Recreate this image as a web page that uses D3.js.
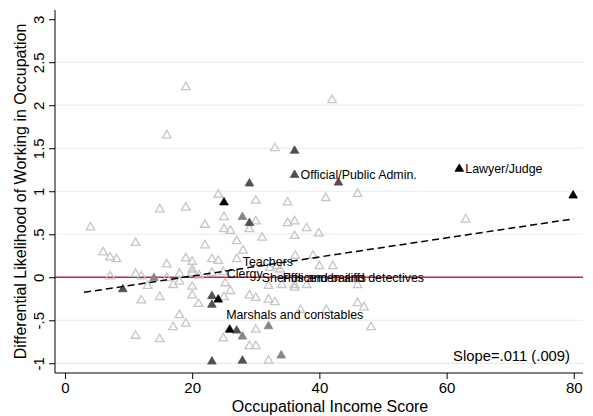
<!DOCTYPE html>
<html>
<head>
<meta charset="utf-8">
<script src="https://cdn.jsdelivr.net/npm/d3@7"></script>
<style>
  html, body { margin: 0; padding: 0; background: #fff; }
  svg { display: block; font-family: "Liberation Sans", Arial, Helvetica, sans-serif; }
</style>
</head>
<body>
<svg id="chart" width="593" height="416"></svg>
<script>
// ---- data (x = occupational income score, y = differential likelihood) ----
const openPts = [
  [4.0,0.58],[6.0,0.29],[7.1,0.23],[8.1,0.21],[7.1,0.01],[11.1,0.40],[11.1,0.04],[12.0,0.01],
  [13.0,-0.10],[12.0,-0.27],[11.1,-0.68],[14.9,0.79],[14.9,-0.23],[14.9,-0.72],[16.0,0.15],
  [16.0,-0.01],[17.0,-0.09],[17.0,-0.58],[18.0,0.04],[18.0,-0.05],[18.0,-0.44],[19.0,0.81],
  [19.0,0.22],[19.0,-0.54],[20.0,0.18],[20.0,0.09],[20.0,0.05],[20.0,-0.11],[20.0,-0.21],
  [21.1,0.02],[21.0,-0.31],[22.0,0.61],[22.0,0.37],[19.0,2.21],[16.0,1.65],
  [23.1,0.21],[24.1,0.19],[23.1,0.05],[24.9,0.06],[24.1,0.96],[25.0,0.70],[25.0,0.56],
  [26.0,0.54],[27.0,0.42],[28.0,0.31],[27.0,0.21],[30.0,0.89],[30.0,0.65],[29.0,0.56],
  [31.0,0.46],[35.0,0.87],[35.0,0.63],[36.1,0.65],[36.1,0.48],[38.0,0.57],[39.9,0.51],
  [41.0,0.92],[46.0,0.97],[33.0,1.50],[42.0,2.06],[36.2,0.25],[39.0,0.25],[40.0,0.13],
  [42.1,0.13],[32.2,0.11],[33.3,0.13],[33.8,0.09],[32.0,-0.10],[34.1,-0.09],[36.1,-0.09],
  [38.0,-0.09],[36.1,-0.12],[46.0,-0.09],[25.2,-0.07],[26.0,-0.16],[25.0,-0.23],[29.0,-0.21],
  [30.0,-0.24],[32.0,-0.26],[33.0,-0.29],[37.0,-0.38],[41.1,-0.38],[46.0,-0.30],[47.0,-0.35],
  [48.1,-0.58],[30.0,-0.61],[24.9,-0.71],[29.0,-0.80],[30.0,-0.80],[32.0,-0.97],[63.0,0.67]
];
const blackPts = [[25.0,0.87],[24.1,-0.26],[25.9,-0.61],[62.0,1.26],[79.9,0.95]];
const darkPts = [[36.1,1.19],[36.1,1.47],[29.0,1.09],[43.0,1.10],[29.0,0.63],[9.1,-0.14],
  [23.1,-0.22],[23.1,-0.32],[27.0,-0.62],[23.1,-0.98],[27.9,-0.97]];
const grayPts = [[27.9,0.70],[14.0,-0.01],[27.9,-0.69],[32.0,-0.57],[34.0,-0.91]];

const labelText = ["Official/Public Admin.","Lawyer/Judge","Teachers","Clergy",
  "Sheriffs and bailiffs","Policemen and detectives","Marshals and constables"];
const labelX = [36.1, 62.0, 27.0, 24.5, 30.0, 33.3, 24.4];
const labelY = [1.19, 1.26, 0.18, 0.04, -0.01, -0.01, -0.44];

const fitX = [3, 80];
const fitY = [-0.175, 0.68];

const xTicks = [0, 20, 40, 60, 80];
const yTicks = [3, 2.5, 2, 1.5, 1, 0.5, 0, -0.5, -1];
const yGrid = [2.5, 2, 1.5, 1, 0.5, -0.5, -1];
const slopeText = "Slope=.011 (.009)";
const xTitle = "Occupational Income Score";
const yTitle = "Differential Likelihood of Working in Occupation";

// ---- layout ----
const svg = d3.select("#chart");
const x = d3.scaleLinear().domain([-1.57, 81.45]).range([55, 583]);
const y = d3.scaleLinear().domain([-1.113, 3.107]).range([373, 10]);

const fmtY = v => v === 0 ? "0" : (Math.abs(v) < 1 ? (v < 0 ? "-" : "") + String(Math.abs(v)).replace(/^0/, "") : String(v));

// gridlines
svg.append("g").selectAll("line").data(yGrid).join("line")
  .attr("x1", 55).attr("x2", 583)
  .attr("y1", d => y(d)).attr("y2", d => y(d))
  .attr("stroke", "#e4edf0").attr("stroke-width", 1.2);

// zero reference line
svg.append("line")
  .attr("x1", 55).attr("x2", 583).attr("y1", y(0)).attr("y2", y(0))
  .attr("stroke", "#d21a46").attr("stroke-width", 1.6);

// axes
const yAxis = d3.axisLeft(y).tickValues(yTicks).tickSize(6).tickPadding(4).tickFormat(fmtY);
const gy = svg.append("g").attr("transform", "translate(55,0)").call(yAxis);
gy.select(".domain").attr("d", "M0,10V373").attr("stroke", "#000");
gy.selectAll(".tick line").attr("stroke", "#000");
gy.selectAll(".tick text")
  .attr("font-size", 15).attr("fill", "#000")
  .attr("text-anchor", "middle").attr("dy", 0)
  .attr("transform", "translate(-17,0) rotate(-90)")
  .attr("x", 0).attr("y", 0)
  .attr("dominant-baseline", "central");

const xAxis = d3.axisBottom(x).tickValues(xTicks).tickSize(6).tickPadding(3).tickFormat(d3.format("d"));
const gx = svg.append("g").attr("transform", "translate(0,373)").call(xAxis);
gx.select(".domain").attr("d", "M55,0H583").attr("stroke", "#000");
gx.selectAll(".tick line").attr("stroke", "#000");
gx.selectAll(".tick text").attr("font-size", 15).attr("fill", "#000");
svg.selectAll(".domain, .tick line").attr("stroke-width", 1);
gx.attr("font-family", null); gy.attr("font-family", null);

// axis titles
svg.append("text").attr("x", 330).attr("y", 406).attr("text-anchor", "middle")
  .attr("dominant-baseline", "central").attr("font-size", 16).text(xTitle);
svg.append("text").attr("transform", `translate(20,${(10+373)/2}) rotate(-90)`)
  .attr("text-anchor", "middle").attr("dominant-baseline", "central")
  .attr("font-size", 16).text(yTitle);

// markers
const tri = d3.symbol().type(d3.symbolTriangle).size(32);
svg.append("g").selectAll("path").data(openPts).join("path")
  .attr("d", tri).attr("transform", d => `translate(${x(d[0])},${y(d[1])})`)
  .attr("fill", "none").attr("stroke", "#c6c6c6").attr("stroke-width", 1.3);
const filled = [[grayPts, "#858585"], [darkPts, "#505050"], [blackPts, "#000"]];
filled.forEach(([pts, col]) => {
  svg.append("g").selectAll("path").data(pts).join("path")
    .attr("d", tri).attr("transform", d => `translate(${x(d[0])},${y(d[1])})`)
    .attr("fill", col).attr("stroke", col).attr("stroke-width", 0.8);
});

// fitted line
svg.append("line")
  .attr("x1", x(fitX[0])).attr("y1", y(fitY[0]))
  .attr("x2", x(fitX[1])).attr("y2", y(fitY[1]))
  .attr("stroke", "#000").attr("stroke-width", 1.5).attr("stroke-dasharray", "7,4");

// labels
svg.append("g").selectAll("text").data(labelText).join("text")
  .attr("x", (d, i) => x(labelX[i]) + 6).attr("y", (d, i) => y(labelY[i]))
  .attr("dominant-baseline", "central").attr("font-size", 12.4).attr("fill", "#000")
  .text(d => d);

// slope annotation
svg.append("text").attr("x", 570).attr("y", 356).attr("text-anchor", "end")
  .attr("dominant-baseline", "central").attr("font-size", 14.8).text(slopeText);
</script>
</body>
</html>
